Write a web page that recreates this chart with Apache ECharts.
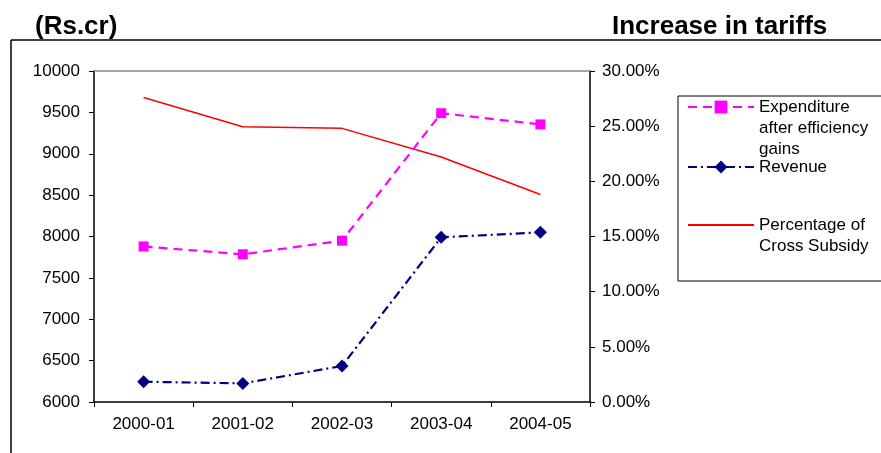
<!DOCTYPE html>
<html><head><meta charset="utf-8">
<script src="https://cdn.jsdelivr.net/npm/echarts@6/dist/echarts.min.js"></script>
<style>html,body{margin:0;padding:0;background:#fff}#c{width:881px;height:453px}</style>
</head><body><div id="c"></div>
<script>
const categories = ['2000-01','2001-02','2002-03','2003-04','2004-05'];
const expenditure = [7880, 7785, 7950, 9490, 9355];
const revenue = [6245, 6225, 6435, 7990, 8050];
const crossSubsidy = [27.6, 24.95, 24.8, 22.2, 18.8];
const leftTicks = {min: 6000, max: 10000, interval: 500};
const rightTicks = {min: 0, max: 30, interval: 5};
const seriesNames = ['Expenditure\nafter efficiency\ngains', 'Revenue', 'Percentage of\nCross Subsidy'];

const FONT = '"Liberation Sans", Arial, sans-serif';
const chart = echarts.init(document.getElementById('c'), null, {renderer: 'canvas'});
const axisLbl = {color: '#000', fontSize: 17, fontFamily: FONT};
const blackLine = {show: true, lineStyle: {color: '#000', width: 1.5}};
const legendBase = {
  orient: 'vertical', left: 687, padding: 0, itemWidth: 66, itemHeight: 16, itemGap: 0,
  selectedMode: false,
  textStyle: {color: '#000', fontSize: 17, fontFamily: FONT, lineHeight: 21}
};
chart.setOption({
  animation: false,
  backgroundColor: '#fff',
  grid: {left: 94, right: 291, top: 71, bottom: 51, containLabel: false},
  graphic: [
    {type: 'line', shape: {x1: 11, y1: 40, x2: 881, y2: 40}, style: {stroke: '#000', lineWidth: 1.5}, z: 1},
    {type: 'line', shape: {x1: 11, y1: 40, x2: 11, y2: 453}, style: {stroke: '#000', lineWidth: 1.5}, z: 1},
    {type: 'rect', shape: {x: 678, y: 96, width: 220, height: 185}, style: {fill: '#fff', stroke: '#000', lineWidth: 1}, z: 1},
    {type: 'text', left: 35, top: 14, style: {text: '(Rs.cr)', font: 'bold 26px ' + FONT, fill: '#000'}, z: 2},
    {type: 'text', left: 612, top: 14, style: {text: 'Increase in tariffs', font: 'bold 26px ' + FONT, fill: '#000'}, z: 2}
  ],
  legend: [
    Object.assign({}, legendBase, {top: 54.5, data: [seriesNames[0]], formatter: n => '\n\n' + n}),
    Object.assign({}, legendBase, {top: 156.5, data: [seriesNames[1]]}),
    Object.assign({}, legendBase, {top: 193.5, data: [{name: seriesNames[2], itemStyle: {opacity: 0}}], formatter: n => '\n' + n})
  ],
  xAxis: [
    {type: 'category', data: categories, boundaryGap: true,
     axisLine: blackLine, axisTick: {show: true, length: 5, lineStyle: {color: '#000'}},
     axisLabel: Object.assign({margin: 14}, axisLbl), splitLine: {show: false}},
    {type: 'category', data: categories, position: 'top', boundaryGap: true,
     axisLine: {show: true, lineStyle: {color: '#888', width: 1.5}}, axisTick: {show: false},
     axisLabel: {show: false}, splitLine: {show: false}}
  ],
  yAxis: [
    {type: 'value', min: leftTicks.min, max: leftTicks.max, interval: leftTicks.interval,
     axisLine: blackLine, axisTick: {show: true, length: 5, lineStyle: {color: '#000'}},
     axisLabel: Object.assign({margin: 14, formatter: v => String(v)}, axisLbl), splitLine: {show: false}},
    {type: 'value', position: 'right', min: rightTicks.min, max: rightTicks.max, interval: rightTicks.interval,
     axisLine: blackLine, axisTick: {show: true, length: 5, lineStyle: {color: '#000'}},
     axisLabel: Object.assign({margin: 12, formatter: v => v.toFixed(2) + '%'}, axisLbl), splitLine: {show: false}}
  ],
  series: [
    {name: seriesNames[0], type: 'line', data: expenditure, yAxisIndex: 0, z: 4,
     symbol: 'rect', symbolSize: 10, itemStyle: {color: '#ff00ff'},
     lineStyle: {color: '#ff00ff', width: 2.2, type: [9, 6]}},
    {name: seriesNames[1], type: 'line', data: revenue, yAxisIndex: 0, z: 4,
     symbol: 'diamond', symbolSize: 13, itemStyle: {color: '#000080'},
     lineStyle: {color: '#000080', width: 2.2, type: [9, 4, 2, 4]}},
    {name: seriesNames[2], type: 'line', data: crossSubsidy, yAxisIndex: 1, z: 3,
     symbol: 'none', itemStyle: {color: '#ff0000'},
     lineStyle: {color: '#ff0000', width: 1.5}}
  ]
});
</script></body></html>
